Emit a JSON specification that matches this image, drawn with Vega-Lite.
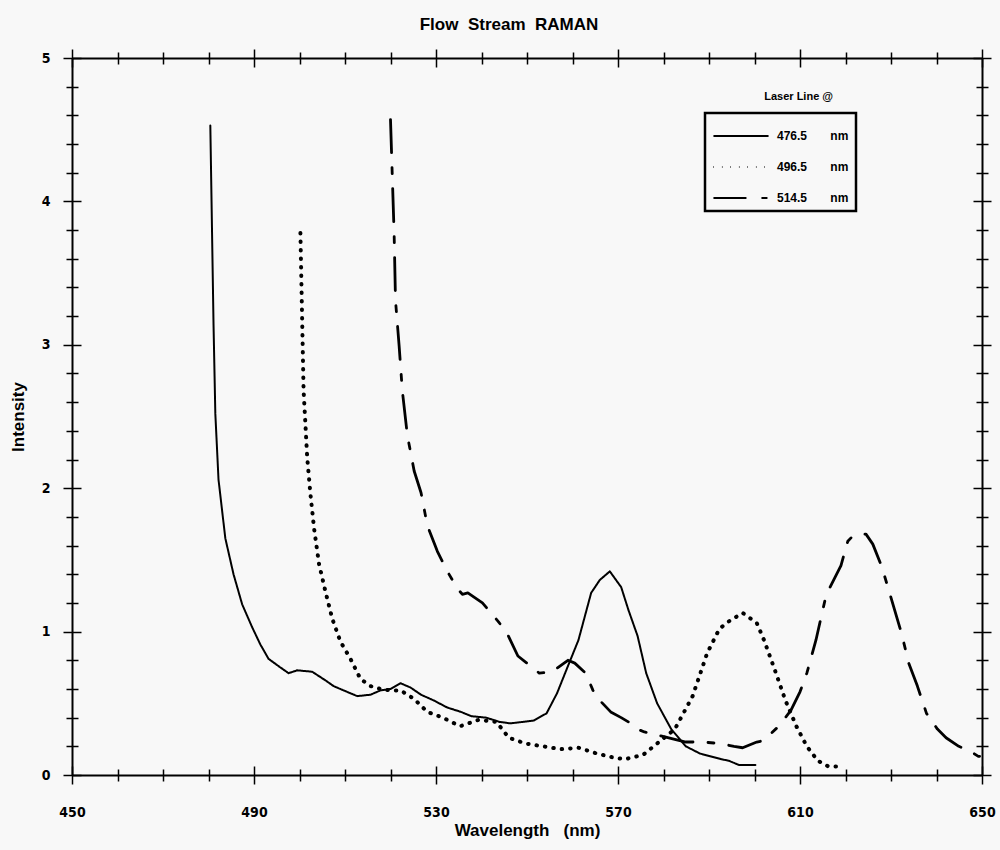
{
  "$schema": "https://vega.github.io/schema/vega-lite/v6.json",
  "autosize": {"type": "none"},
  "width": 910,
  "height": 717,
  "padding": {"left": 72, "top": 58, "right": 18, "bottom": 75},
  "background": "#f8f8f8",
  "view": {"stroke": null},
  "title": {"text": "Flow\u00a0\u00a0Stream\u00a0\u00a0RAMAN", "font": "Liberation Sans", "fontSize": 17, "fontWeight": "bold", "color": "black", "offset": 14, "anchor": "middle", "dx": -18},
  "config": {
    "font": "Liberation Sans",
    "axis": {"grid": false, "domainColor": "black", "tickColor": "black", "labelColor": "black", "titleColor": "black", "labelOverlap": false, "labelFlush": false}
  },
  "data": {"values": [
    {"w": 480.4, "i": 4.53, "laser": "476.5\u00a0\u00a0\u00a0\u00a0\u00a0\u00a0\u00a0nm"},
    {"w": 481.1, "i": 3.15, "laser": "476.5\u00a0\u00a0\u00a0\u00a0\u00a0\u00a0\u00a0nm"},
    {"w": 481.5, "i": 2.52, "laser": "476.5\u00a0\u00a0\u00a0\u00a0\u00a0\u00a0\u00a0nm"},
    {"w": 482.2, "i": 2.06, "laser": "476.5\u00a0\u00a0\u00a0\u00a0\u00a0\u00a0\u00a0nm"},
    {"w": 483.7, "i": 1.65, "laser": "476.5\u00a0\u00a0\u00a0\u00a0\u00a0\u00a0\u00a0nm"},
    {"w": 485.5, "i": 1.40, "laser": "476.5\u00a0\u00a0\u00a0\u00a0\u00a0\u00a0\u00a0nm"},
    {"w": 487.4, "i": 1.19, "laser": "476.5\u00a0\u00a0\u00a0\u00a0\u00a0\u00a0\u00a0nm"},
    {"w": 489.6, "i": 1.03, "laser": "476.5\u00a0\u00a0\u00a0\u00a0\u00a0\u00a0\u00a0nm"},
    {"w": 491.4, "i": 0.91, "laser": "476.5\u00a0\u00a0\u00a0\u00a0\u00a0\u00a0\u00a0nm"},
    {"w": 493.2, "i": 0.81, "laser": "476.5\u00a0\u00a0\u00a0\u00a0\u00a0\u00a0\u00a0nm"},
    {"w": 495.8, "i": 0.75, "laser": "476.5\u00a0\u00a0\u00a0\u00a0\u00a0\u00a0\u00a0nm"},
    {"w": 497.6, "i": 0.71, "laser": "476.5\u00a0\u00a0\u00a0\u00a0\u00a0\u00a0\u00a0nm"},
    {"w": 499.5, "i": 0.73, "laser": "476.5\u00a0\u00a0\u00a0\u00a0\u00a0\u00a0\u00a0nm"},
    {"w": 502.8, "i": 0.72, "laser": "476.5\u00a0\u00a0\u00a0\u00a0\u00a0\u00a0\u00a0nm"},
    {"w": 505.7, "i": 0.66, "laser": "476.5\u00a0\u00a0\u00a0\u00a0\u00a0\u00a0\u00a0nm"},
    {"w": 507.5, "i": 0.62, "laser": "476.5\u00a0\u00a0\u00a0\u00a0\u00a0\u00a0\u00a0nm"},
    {"w": 509.7, "i": 0.59, "laser": "476.5\u00a0\u00a0\u00a0\u00a0\u00a0\u00a0\u00a0nm"},
    {"w": 512.7, "i": 0.55, "laser": "476.5\u00a0\u00a0\u00a0\u00a0\u00a0\u00a0\u00a0nm"},
    {"w": 515.6, "i": 0.56, "laser": "476.5\u00a0\u00a0\u00a0\u00a0\u00a0\u00a0\u00a0nm"},
    {"w": 517.8, "i": 0.59, "laser": "476.5\u00a0\u00a0\u00a0\u00a0\u00a0\u00a0\u00a0nm"},
    {"w": 520.0, "i": 0.60, "laser": "476.5\u00a0\u00a0\u00a0\u00a0\u00a0\u00a0\u00a0nm"},
    {"w": 522.2, "i": 0.64, "laser": "476.5\u00a0\u00a0\u00a0\u00a0\u00a0\u00a0\u00a0nm"},
    {"w": 524.4, "i": 0.61, "laser": "476.5\u00a0\u00a0\u00a0\u00a0\u00a0\u00a0\u00a0nm"},
    {"w": 526.7, "i": 0.56, "laser": "476.5\u00a0\u00a0\u00a0\u00a0\u00a0\u00a0\u00a0nm"},
    {"w": 529.5, "i": 0.52, "laser": "476.5\u00a0\u00a0\u00a0\u00a0\u00a0\u00a0\u00a0nm"},
    {"w": 532.5, "i": 0.47, "laser": "476.5\u00a0\u00a0\u00a0\u00a0\u00a0\u00a0\u00a0nm"},
    {"w": 535.5, "i": 0.44, "laser": "476.5\u00a0\u00a0\u00a0\u00a0\u00a0\u00a0\u00a0nm"},
    {"w": 537.8, "i": 0.41, "laser": "476.5\u00a0\u00a0\u00a0\u00a0\u00a0\u00a0\u00a0nm"},
    {"w": 541.0, "i": 0.40, "laser": "476.5\u00a0\u00a0\u00a0\u00a0\u00a0\u00a0\u00a0nm"},
    {"w": 544.0, "i": 0.37, "laser": "476.5\u00a0\u00a0\u00a0\u00a0\u00a0\u00a0\u00a0nm"},
    {"w": 546.4, "i": 0.36, "laser": "476.5\u00a0\u00a0\u00a0\u00a0\u00a0\u00a0\u00a0nm"},
    {"w": 551.5, "i": 0.38, "laser": "476.5\u00a0\u00a0\u00a0\u00a0\u00a0\u00a0\u00a0nm"},
    {"w": 554.3, "i": 0.43, "laser": "476.5\u00a0\u00a0\u00a0\u00a0\u00a0\u00a0\u00a0nm"},
    {"w": 556.6, "i": 0.57, "laser": "476.5\u00a0\u00a0\u00a0\u00a0\u00a0\u00a0\u00a0nm"},
    {"w": 559.0, "i": 0.76, "laser": "476.5\u00a0\u00a0\u00a0\u00a0\u00a0\u00a0\u00a0nm"},
    {"w": 561.3, "i": 0.94, "laser": "476.5\u00a0\u00a0\u00a0\u00a0\u00a0\u00a0\u00a0nm"},
    {"w": 564.1, "i": 1.27, "laser": "476.5\u00a0\u00a0\u00a0\u00a0\u00a0\u00a0\u00a0nm"},
    {"w": 566.0, "i": 1.36, "laser": "476.5\u00a0\u00a0\u00a0\u00a0\u00a0\u00a0\u00a0nm"},
    {"w": 568.2, "i": 1.42, "laser": "476.5\u00a0\u00a0\u00a0\u00a0\u00a0\u00a0\u00a0nm"},
    {"w": 570.7, "i": 1.31, "laser": "476.5\u00a0\u00a0\u00a0\u00a0\u00a0\u00a0\u00a0nm"},
    {"w": 572.3, "i": 1.15, "laser": "476.5\u00a0\u00a0\u00a0\u00a0\u00a0\u00a0\u00a0nm"},
    {"w": 574.3, "i": 0.97, "laser": "476.5\u00a0\u00a0\u00a0\u00a0\u00a0\u00a0\u00a0nm"},
    {"w": 576.2, "i": 0.71, "laser": "476.5\u00a0\u00a0\u00a0\u00a0\u00a0\u00a0\u00a0nm"},
    {"w": 578.6, "i": 0.50, "laser": "476.5\u00a0\u00a0\u00a0\u00a0\u00a0\u00a0\u00a0nm"},
    {"w": 581.7, "i": 0.32, "laser": "476.5\u00a0\u00a0\u00a0\u00a0\u00a0\u00a0\u00a0nm"},
    {"w": 584.9, "i": 0.20, "laser": "476.5\u00a0\u00a0\u00a0\u00a0\u00a0\u00a0\u00a0nm"},
    {"w": 588.0, "i": 0.15, "laser": "476.5\u00a0\u00a0\u00a0\u00a0\u00a0\u00a0\u00a0nm"},
    {"w": 592.7, "i": 0.11, "laser": "476.5\u00a0\u00a0\u00a0\u00a0\u00a0\u00a0\u00a0nm"},
    {"w": 594.3, "i": 0.10, "laser": "476.5\u00a0\u00a0\u00a0\u00a0\u00a0\u00a0\u00a0nm"},
    {"w": 596.6, "i": 0.07, "laser": "476.5\u00a0\u00a0\u00a0\u00a0\u00a0\u00a0\u00a0nm"},
    {"w": 600.2, "i": 0.07, "laser": "476.5\u00a0\u00a0\u00a0\u00a0\u00a0\u00a0\u00a0nm"},

    {"w": 500.2, "i": 3.78, "laser": "496.5\u00a0\u00a0\u00a0\u00a0\u00a0\u00a0\u00a0nm"},
    {"w": 500.6, "i": 3.15, "laser": "496.5\u00a0\u00a0\u00a0\u00a0\u00a0\u00a0\u00a0nm"},
    {"w": 500.9, "i": 2.68, "laser": "496.5\u00a0\u00a0\u00a0\u00a0\u00a0\u00a0\u00a0nm"},
    {"w": 501.7, "i": 2.21, "laser": "496.5\u00a0\u00a0\u00a0\u00a0\u00a0\u00a0\u00a0nm"},
    {"w": 502.4, "i": 1.96, "laser": "496.5\u00a0\u00a0\u00a0\u00a0\u00a0\u00a0\u00a0nm"},
    {"w": 503.2, "i": 1.72, "laser": "496.5\u00a0\u00a0\u00a0\u00a0\u00a0\u00a0\u00a0nm"},
    {"w": 504.3, "i": 1.47, "laser": "496.5\u00a0\u00a0\u00a0\u00a0\u00a0\u00a0\u00a0nm"},
    {"w": 505.7, "i": 1.28, "laser": "496.5\u00a0\u00a0\u00a0\u00a0\u00a0\u00a0\u00a0nm"},
    {"w": 507.2, "i": 1.09, "laser": "496.5\u00a0\u00a0\u00a0\u00a0\u00a0\u00a0\u00a0nm"},
    {"w": 509.0, "i": 0.93, "laser": "496.5\u00a0\u00a0\u00a0\u00a0\u00a0\u00a0\u00a0nm"},
    {"w": 511.2, "i": 0.81, "laser": "496.5\u00a0\u00a0\u00a0\u00a0\u00a0\u00a0\u00a0nm"},
    {"w": 513.4, "i": 0.67, "laser": "496.5\u00a0\u00a0\u00a0\u00a0\u00a0\u00a0\u00a0nm"},
    {"w": 515.6, "i": 0.62, "laser": "496.5\u00a0\u00a0\u00a0\u00a0\u00a0\u00a0\u00a0nm"},
    {"w": 517.8, "i": 0.60, "laser": "496.5\u00a0\u00a0\u00a0\u00a0\u00a0\u00a0\u00a0nm"},
    {"w": 520.0, "i": 0.59, "laser": "496.5\u00a0\u00a0\u00a0\u00a0\u00a0\u00a0\u00a0nm"},
    {"w": 522.2, "i": 0.59, "laser": "496.5\u00a0\u00a0\u00a0\u00a0\u00a0\u00a0\u00a0nm"},
    {"w": 525.2, "i": 0.53, "laser": "496.5\u00a0\u00a0\u00a0\u00a0\u00a0\u00a0\u00a0nm"},
    {"w": 528.1, "i": 0.44, "laser": "496.5\u00a0\u00a0\u00a0\u00a0\u00a0\u00a0\u00a0nm"},
    {"w": 531.5, "i": 0.40, "laser": "496.5\u00a0\u00a0\u00a0\u00a0\u00a0\u00a0\u00a0nm"},
    {"w": 535.3, "i": 0.34, "laser": "496.5\u00a0\u00a0\u00a0\u00a0\u00a0\u00a0\u00a0nm"},
    {"w": 539.4, "i": 0.385, "laser": "496.5\u00a0\u00a0\u00a0\u00a0\u00a0\u00a0\u00a0nm"},
    {"w": 543.3, "i": 0.37, "laser": "496.5\u00a0\u00a0\u00a0\u00a0\u00a0\u00a0\u00a0nm"},
    {"w": 546.0, "i": 0.26, "laser": "496.5\u00a0\u00a0\u00a0\u00a0\u00a0\u00a0\u00a0nm"},
    {"w": 549.6, "i": 0.22, "laser": "496.5\u00a0\u00a0\u00a0\u00a0\u00a0\u00a0\u00a0nm"},
    {"w": 553.5, "i": 0.20, "laser": "496.5\u00a0\u00a0\u00a0\u00a0\u00a0\u00a0\u00a0nm"},
    {"w": 557.4, "i": 0.18, "laser": "496.5\u00a0\u00a0\u00a0\u00a0\u00a0\u00a0\u00a0nm"},
    {"w": 561.3, "i": 0.19, "laser": "496.5\u00a0\u00a0\u00a0\u00a0\u00a0\u00a0\u00a0nm"},
    {"w": 565.3, "i": 0.15, "laser": "496.5\u00a0\u00a0\u00a0\u00a0\u00a0\u00a0\u00a0nm"},
    {"w": 569.2, "i": 0.12, "laser": "496.5\u00a0\u00a0\u00a0\u00a0\u00a0\u00a0\u00a0nm"},
    {"w": 571.5, "i": 0.11, "laser": "496.5\u00a0\u00a0\u00a0\u00a0\u00a0\u00a0\u00a0nm"},
    {"w": 575.5, "i": 0.14, "laser": "496.5\u00a0\u00a0\u00a0\u00a0\u00a0\u00a0\u00a0nm"},
    {"w": 578.6, "i": 0.22, "laser": "496.5\u00a0\u00a0\u00a0\u00a0\u00a0\u00a0\u00a0nm"},
    {"w": 582.5, "i": 0.32, "laser": "496.5\u00a0\u00a0\u00a0\u00a0\u00a0\u00a0\u00a0nm"},
    {"w": 586.4, "i": 0.55, "laser": "496.5\u00a0\u00a0\u00a0\u00a0\u00a0\u00a0\u00a0nm"},
    {"w": 589.6, "i": 0.85, "laser": "496.5\u00a0\u00a0\u00a0\u00a0\u00a0\u00a0\u00a0nm"},
    {"w": 592.3, "i": 1.02, "laser": "496.5\u00a0\u00a0\u00a0\u00a0\u00a0\u00a0\u00a0nm"},
    {"w": 594.3, "i": 1.07, "laser": "496.5\u00a0\u00a0\u00a0\u00a0\u00a0\u00a0\u00a0nm"},
    {"w": 597.4, "i": 1.13, "laser": "496.5\u00a0\u00a0\u00a0\u00a0\u00a0\u00a0\u00a0nm"},
    {"w": 600.5, "i": 1.06, "laser": "496.5\u00a0\u00a0\u00a0\u00a0\u00a0\u00a0\u00a0nm"},
    {"w": 602.1, "i": 0.94, "laser": "496.5\u00a0\u00a0\u00a0\u00a0\u00a0\u00a0\u00a0nm"},
    {"w": 604.5, "i": 0.73, "laser": "496.5\u00a0\u00a0\u00a0\u00a0\u00a0\u00a0\u00a0nm"},
    {"w": 606.8, "i": 0.52, "laser": "496.5\u00a0\u00a0\u00a0\u00a0\u00a0\u00a0\u00a0nm"},
    {"w": 609.2, "i": 0.34, "laser": "496.5\u00a0\u00a0\u00a0\u00a0\u00a0\u00a0\u00a0nm"},
    {"w": 611.5, "i": 0.20, "laser": "496.5\u00a0\u00a0\u00a0\u00a0\u00a0\u00a0\u00a0nm"},
    {"w": 613.9, "i": 0.10, "laser": "496.5\u00a0\u00a0\u00a0\u00a0\u00a0\u00a0\u00a0nm"},
    {"w": 616.2, "i": 0.06, "laser": "496.5\u00a0\u00a0\u00a0\u00a0\u00a0\u00a0\u00a0nm"},
    {"w": 619.0, "i": 0.06, "laser": "496.5\u00a0\u00a0\u00a0\u00a0\u00a0\u00a0\u00a0nm"},

    {"w": 520.0, "i": 4.57, "laser": "514.5\u00a0\u00a0\u00a0\u00a0\u00a0\u00a0\u00a0nm"},
    {"w": 520.8, "i": 3.77, "laser": "514.5\u00a0\u00a0\u00a0\u00a0\u00a0\u00a0\u00a0nm"},
    {"w": 521.1, "i": 3.31, "laser": "514.5\u00a0\u00a0\u00a0\u00a0\u00a0\u00a0\u00a0nm"},
    {"w": 521.9, "i": 2.99, "laser": "514.5\u00a0\u00a0\u00a0\u00a0\u00a0\u00a0\u00a0nm"},
    {"w": 522.6, "i": 2.68, "laser": "514.5\u00a0\u00a0\u00a0\u00a0\u00a0\u00a0\u00a0nm"},
    {"w": 523.7, "i": 2.37, "laser": "514.5\u00a0\u00a0\u00a0\u00a0\u00a0\u00a0\u00a0nm"},
    {"w": 525.2, "i": 2.12, "laser": "514.5\u00a0\u00a0\u00a0\u00a0\u00a0\u00a0\u00a0nm"},
    {"w": 526.7, "i": 1.97, "laser": "514.5\u00a0\u00a0\u00a0\u00a0\u00a0\u00a0\u00a0nm"},
    {"w": 528.1, "i": 1.74, "laser": "514.5\u00a0\u00a0\u00a0\u00a0\u00a0\u00a0\u00a0nm"},
    {"w": 530.3, "i": 1.56, "laser": "514.5\u00a0\u00a0\u00a0\u00a0\u00a0\u00a0\u00a0nm"},
    {"w": 532.5, "i": 1.42, "laser": "514.5\u00a0\u00a0\u00a0\u00a0\u00a0\u00a0\u00a0nm"},
    {"w": 534.7, "i": 1.30, "laser": "514.5\u00a0\u00a0\u00a0\u00a0\u00a0\u00a0\u00a0nm"},
    {"w": 535.8, "i": 1.26, "laser": "514.5\u00a0\u00a0\u00a0\u00a0\u00a0\u00a0\u00a0nm"},
    {"w": 537.0, "i": 1.27, "laser": "514.5\u00a0\u00a0\u00a0\u00a0\u00a0\u00a0\u00a0nm"},
    {"w": 540.2, "i": 1.20, "laser": "514.5\u00a0\u00a0\u00a0\u00a0\u00a0\u00a0\u00a0nm"},
    {"w": 543.7, "i": 1.07, "laser": "514.5\u00a0\u00a0\u00a0\u00a0\u00a0\u00a0\u00a0nm"},
    {"w": 545.6, "i": 0.99, "laser": "514.5\u00a0\u00a0\u00a0\u00a0\u00a0\u00a0\u00a0nm"},
    {"w": 548.0, "i": 0.83, "laser": "514.5\u00a0\u00a0\u00a0\u00a0\u00a0\u00a0\u00a0nm"},
    {"w": 550.4, "i": 0.77, "laser": "514.5\u00a0\u00a0\u00a0\u00a0\u00a0\u00a0\u00a0nm"},
    {"w": 552.7, "i": 0.71, "laser": "514.5\u00a0\u00a0\u00a0\u00a0\u00a0\u00a0\u00a0nm"},
    {"w": 555.5, "i": 0.72, "laser": "514.5\u00a0\u00a0\u00a0\u00a0\u00a0\u00a0\u00a0nm"},
    {"w": 559.0, "i": 0.80, "laser": "514.5\u00a0\u00a0\u00a0\u00a0\u00a0\u00a0\u00a0nm"},
    {"w": 560.5, "i": 0.78, "laser": "514.5\u00a0\u00a0\u00a0\u00a0\u00a0\u00a0\u00a0nm"},
    {"w": 562.9, "i": 0.71, "laser": "514.5\u00a0\u00a0\u00a0\u00a0\u00a0\u00a0\u00a0nm"},
    {"w": 564.5, "i": 0.59, "laser": "514.5\u00a0\u00a0\u00a0\u00a0\u00a0\u00a0\u00a0nm"},
    {"w": 566.0, "i": 0.52, "laser": "514.5\u00a0\u00a0\u00a0\u00a0\u00a0\u00a0\u00a0nm"},
    {"w": 568.4, "i": 0.44, "laser": "514.5\u00a0\u00a0\u00a0\u00a0\u00a0\u00a0\u00a0nm"},
    {"w": 570.7, "i": 0.40, "laser": "514.5\u00a0\u00a0\u00a0\u00a0\u00a0\u00a0\u00a0nm"},
    {"w": 572.3, "i": 0.37, "laser": "514.5\u00a0\u00a0\u00a0\u00a0\u00a0\u00a0\u00a0nm"},
    {"w": 574.3, "i": 0.32, "laser": "514.5\u00a0\u00a0\u00a0\u00a0\u00a0\u00a0\u00a0nm"},
    {"w": 575.8, "i": 0.30, "laser": "514.5\u00a0\u00a0\u00a0\u00a0\u00a0\u00a0\u00a0nm"},
    {"w": 584.9, "i": 0.23, "laser": "514.5\u00a0\u00a0\u00a0\u00a0\u00a0\u00a0\u00a0nm"},
    {"w": 588.5, "i": 0.23, "laser": "514.5\u00a0\u00a0\u00a0\u00a0\u00a0\u00a0\u00a0nm"},
    {"w": 592.3, "i": 0.22, "laser": "514.5\u00a0\u00a0\u00a0\u00a0\u00a0\u00a0\u00a0nm"},
    {"w": 595.5, "i": 0.20, "laser": "514.5\u00a0\u00a0\u00a0\u00a0\u00a0\u00a0\u00a0nm"},
    {"w": 597.4, "i": 0.19, "laser": "514.5\u00a0\u00a0\u00a0\u00a0\u00a0\u00a0\u00a0nm"},
    {"w": 600.5, "i": 0.23, "laser": "514.5\u00a0\u00a0\u00a0\u00a0\u00a0\u00a0\u00a0nm"},
    {"w": 602.0, "i": 0.24, "laser": "514.5\u00a0\u00a0\u00a0\u00a0\u00a0\u00a0\u00a0nm"},
    {"w": 605.3, "i": 0.34, "laser": "514.5\u00a0\u00a0\u00a0\u00a0\u00a0\u00a0\u00a0nm"},
    {"w": 608.0, "i": 0.45, "laser": "514.5\u00a0\u00a0\u00a0\u00a0\u00a0\u00a0\u00a0nm"},
    {"w": 610.0, "i": 0.58, "laser": "514.5\u00a0\u00a0\u00a0\u00a0\u00a0\u00a0\u00a0nm"},
    {"w": 611.5, "i": 0.71, "laser": "514.5\u00a0\u00a0\u00a0\u00a0\u00a0\u00a0\u00a0nm"},
    {"w": 613.5, "i": 0.94, "laser": "514.5\u00a0\u00a0\u00a0\u00a0\u00a0\u00a0\u00a0nm"},
    {"w": 615.5, "i": 1.22, "laser": "514.5\u00a0\u00a0\u00a0\u00a0\u00a0\u00a0\u00a0nm"},
    {"w": 616.6, "i": 1.31, "laser": "514.5\u00a0\u00a0\u00a0\u00a0\u00a0\u00a0\u00a0nm"},
    {"w": 619.0, "i": 1.46, "laser": "514.5\u00a0\u00a0\u00a0\u00a0\u00a0\u00a0\u00a0nm"},
    {"w": 620.5, "i": 1.63, "laser": "514.5\u00a0\u00a0\u00a0\u00a0\u00a0\u00a0\u00a0nm"},
    {"w": 621.7, "i": 1.67, "laser": "514.5\u00a0\u00a0\u00a0\u00a0\u00a0\u00a0\u00a0nm"},
    {"w": 624.5, "i": 1.68, "laser": "514.5\u00a0\u00a0\u00a0\u00a0\u00a0\u00a0\u00a0nm"},
    {"w": 626.0, "i": 1.61, "laser": "514.5\u00a0\u00a0\u00a0\u00a0\u00a0\u00a0\u00a0nm"},
    {"w": 628.0, "i": 1.45, "laser": "514.5\u00a0\u00a0\u00a0\u00a0\u00a0\u00a0\u00a0nm"},
    {"w": 629.5, "i": 1.29, "laser": "514.5\u00a0\u00a0\u00a0\u00a0\u00a0\u00a0\u00a0nm"},
    {"w": 632.3, "i": 0.99, "laser": "514.5\u00a0\u00a0\u00a0\u00a0\u00a0\u00a0\u00a0nm"},
    {"w": 633.9, "i": 0.78, "laser": "514.5\u00a0\u00a0\u00a0\u00a0\u00a0\u00a0\u00a0nm"},
    {"w": 635.8, "i": 0.62, "laser": "514.5\u00a0\u00a0\u00a0\u00a0\u00a0\u00a0\u00a0nm"},
    {"w": 637.8, "i": 0.43, "laser": "514.5\u00a0\u00a0\u00a0\u00a0\u00a0\u00a0\u00a0nm"},
    {"w": 640.2, "i": 0.32, "laser": "514.5\u00a0\u00a0\u00a0\u00a0\u00a0\u00a0\u00a0nm"},
    {"w": 642.1, "i": 0.26, "laser": "514.5\u00a0\u00a0\u00a0\u00a0\u00a0\u00a0\u00a0nm"},
    {"w": 644.9, "i": 0.20, "laser": "514.5\u00a0\u00a0\u00a0\u00a0\u00a0\u00a0\u00a0nm"},
    {"w": 647.2, "i": 0.17, "laser": "514.5\u00a0\u00a0\u00a0\u00a0\u00a0\u00a0\u00a0nm"},
    {"w": 649.2, "i": 0.13, "laser": "514.5\u00a0\u00a0\u00a0\u00a0\u00a0\u00a0\u00a0nm"},
    {"w": 650.0, "i": 0.13, "laser": "514.5\u00a0\u00a0\u00a0\u00a0\u00a0\u00a0\u00a0nm"}
  ]},
  "resolve": {"axis": {"x": "independent", "y": "independent"}},
  "layer": [
    {
      "mark": {"type": "line", "color": "black", "strokeCap": "round", "strokeJoin": "round"},
      "encoding": {
        "x": {"field": "w", "type": "quantitative",
          "scale": {"domain": [450, 650], "nice": false, "zero": false},
          "axis": {"orient": "bottom",
            "values": [450,460,470,480,490,500,510,520,530,540,550,560,570,580,590,600,610,620,630,640,650],
            "tickSize": {"condition": {"test": "(datum.value - 450) % 40 === 0", "value": 9}, "value": 6},
            "tickWidth": 1.5, "domainWidth": 2,
            "labelExpr": "(datum.value - 450) % 40 === 0 ? datum.label : ''",
            "labelFont": "Liberation Sans Narrow, DejaVu Sans Condensed, sans-serif",
            "labelFontWeight": "bold", "labelFontSize": 14, "labelPadding": 21,
            "title": "Wavelength\u00a0\u00a0\u00a0(nm)", "titleFontSize": 17, "titleFontWeight": "bold",
            "titleFont": "Liberation Sans", "titlePadding": 3}},
        "y": {"field": "i", "type": "quantitative",
          "scale": {"domain": [0, 5], "nice": false},
          "axis": {"orient": "left",
            "values": [0,0.2,0.4,0.6,0.8,1,1.2,1.4,1.6,1.8,2,2.2,2.4,2.6,2.8,3,3.2,3.4,3.6,3.8,4,4.2,4.4,4.6,4.8,5],
            "tickSize": {"condition": {"test": "abs(datum.value - round(datum.value)) < 0.001", "value": 9}, "value": 6},
            "tickWidth": 1.5, "domainWidth": 2,
            "labelExpr": "abs(datum.value - round(datum.value)) < 0.001 ? '' + round(datum.value) : ''",
            "labelFont": "Liberation Sans Narrow, DejaVu Sans Condensed, sans-serif",
            "labelFontWeight": "bold", "labelFontSize": 14, "labelPadding": 13,
            "title": "Intensity", "titleFontSize": 17, "titleFontWeight": "bold",
            "titleFont": "Liberation Sans", "titlePadding": 14}},
        "strokeDash": {"field": "laser", "type": "nominal",
          "scale": {"domain": ["476.5\u00a0\u00a0\u00a0\u00a0\u00a0\u00a0\u00a0nm", "496.5\u00a0\u00a0\u00a0\u00a0\u00a0\u00a0\u00a0nm", "514.5\u00a0\u00a0\u00a0\u00a0\u00a0\u00a0\u00a0nm"],
                    "range": [[1, 0], [0.5, 8], [33, 15, 6, 15]]},
          "legend": {"title": null, "orient": "none", "legendX": 633, "legendY": 55,
            "symbolType": "M-1.9,0H1.9", "symbolSize": 841, "symbolOffset": 13, "symbolStrokeWidth": 2.2, "symbolStrokeColor": "black",
            "labelOffset": 20,
            "labelFont": "Liberation Sans", "labelFontWeight": "bold", "labelFontSize": 12, "labelColor": "black",
            "strokeColor": "black", "fillColor": "#f8f8f8", "padding": 7, "rowPadding": 9,
            "encode": {"legend": {"update": {"strokeWidth": {"value": 2.5}}}}}},
        "strokeWidth": {
          "condition": [
            {"test": "indexof(datum.laser, '496') === 0", "value": 4},
            {"test": "indexof(datum.laser, '514') === 0", "value": 2.8}
          ],
          "value": 2}
      }
    },
    {
      "data": {"values": [{"label": "Laser Line @"}]},
      "mark": {"type": "text", "fontWeight": "bold", "fontSize": 11, "font": "Liberation Sans", "color": "black", "align": "center", "baseline": "middle"},
      "encoding": {
        "x": {"datum": 609.7, "type": "quantitative",
          "axis": {"orient": "bottom",
            "values": [450,460,470,480,490,500,510,520,530,540,550,560,570,580,590,600,610,620,630,640,650],
            "tickSize": {"condition": {"test": "(datum.value - 450) % 40 === 0", "value": -9}, "value": -6},
            "tickWidth": 1.5, "domain": false, "labels": false, "title": null}},
        "y": {"datum": 4.73, "type": "quantitative",
          "axis": {"orient": "left",
            "values": [0,0.2,0.4,0.6,0.8,1,1.2,1.4,1.6,1.8,2,2.2,2.4,2.6,2.8,3,3.2,3.4,3.6,3.8,4,4.2,4.4,4.6,4.8,5],
            "tickSize": {"condition": {"test": "abs(datum.value - round(datum.value)) < 0.001", "value": -9}, "value": -6},
            "tickWidth": 1.5, "domain": false, "labels": false, "title": null}},
        "text": {"field": "label", "type": "nominal"}
      }
    },
    {
      "mark": {"type": "point", "opacity": 0},
      "encoding": {
        "x": {"field": "w", "type": "quantitative",
          "axis": {"orient": "top",
            "values": [450,460,470,480,490,500,510,520,530,540,550,560,570,580,590,600,610,620,630,640,650],
            "tickSize": {"condition": {"test": "(datum.value - 450) % 40 === 0", "value": 9}, "value": 6},
            "tickWidth": 1.5, "domainWidth": 2, "labels": false, "title": null}},
        "y": {"field": "i", "type": "quantitative",
          "axis": {"orient": "right",
            "values": [0,0.2,0.4,0.6,0.8,1,1.2,1.4,1.6,1.8,2,2.2,2.4,2.6,2.8,3,3.2,3.4,3.6,3.8,4,4.2,4.4,4.6,4.8,5],
            "tickSize": {"condition": {"test": "abs(datum.value - round(datum.value)) < 0.001", "value": 9}, "value": 6},
            "tickWidth": 1.5, "domainWidth": 2, "labels": false, "title": null}}
      }
    },
    {
      "mark": {"type": "point", "opacity": 0},
      "encoding": {
        "x": {"field": "w", "type": "quantitative",
          "axis": {"orient": "top",
            "values": [450,460,470,480,490,500,510,520,530,540,550,560,570,580,590,600,610,620,630,640,650],
            "tickSize": {"condition": {"test": "(datum.value - 450) % 40 === 0", "value": -9}, "value": -6},
            "tickWidth": 1.5, "domain": false, "labels": false, "title": null}},
        "y": {"field": "i", "type": "quantitative",
          "axis": {"orient": "right",
            "values": [0,0.2,0.4,0.6,0.8,1,1.2,1.4,1.6,1.8,2,2.2,2.4,2.6,2.8,3,3.2,3.4,3.6,3.8,4,4.2,4.4,4.6,4.8,5],
            "tickSize": {"condition": {"test": "abs(datum.value - round(datum.value)) < 0.001", "value": -9}, "value": -6},
            "tickWidth": 1.5, "domain": false, "labels": false, "title": null}}
      }
    }
  ]
}
